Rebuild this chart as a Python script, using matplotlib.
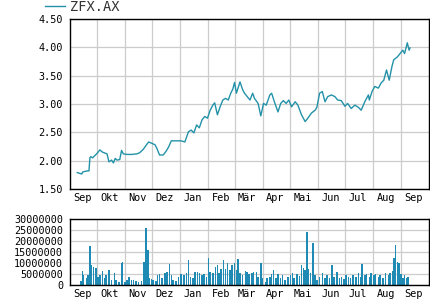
import numpy as np
import pandas as pd
import matplotlib
matplotlib.use('Agg')
import matplotlib.pyplot as plt
from matplotlib.lines import Line2D
from matplotlib.ticker import FuncFormatter

# day offsets from 2023-09-01 and close prices
start = pd.Timestamp('2023-09-01')
price_days = [8, 13, 14, 19, 21, 22, 23, 25, 30, 33, 36, 41, 43, 46, 48, 50, 52, 55, 57, 59,
              63, 68, 74, 77, 81, 85, 87, 90, 94, 96, 99, 103, 106, 109, 112, 118, 123, 127, 131, 134,
              137, 140, 143, 146, 149, 152, 155, 158, 160, 163, 166, 169, 172, 175, 178, 180, 182, 184, 188, 191,
              193, 196, 199, 202, 204, 208, 211, 214, 217, 221, 223, 226, 230, 233, 236, 239, 242, 245, 249, 252,
              256, 260, 263, 267, 271, 273, 276, 279, 282, 285, 289, 293, 296, 300, 304, 307, 311, 315, 319, 322,
              326, 330, 331, 334, 337, 341, 344, 347, 350, 353, 356, 358, 362, 365, 368, 370, 373, 375, 376]
price = [1.79, 1.765, 1.80, 1.82, 1.82, 2.05, 2.07, 2.05, 2.13, 2.19, 2.15, 2.12, 1.98, 2.01, 1.96, 2.04, 2.01, 2.02, 2.18, 2.12,
         2.11, 2.11, 2.12, 2.14, 2.20, 2.29, 2.33, 2.31, 2.28, 2.22, 2.10, 2.10, 2.16, 2.24, 2.35, 2.35, 2.35, 2.33, 2.51, 2.54,
         2.49, 2.63, 2.58, 2.72, 2.78, 2.75, 2.89, 2.98, 3.02, 2.81, 2.95, 3.07, 3.10, 3.07, 3.20, 3.26, 3.38, 3.19, 3.39, 3.25,
         3.19, 3.13, 3.07, 3.19, 3.10, 3.01, 2.79, 3.01, 2.98, 3.16, 3.19, 3.04, 2.86, 3.01, 3.06, 3.01, 3.07, 2.95, 3.04, 2.98,
         2.81, 2.69, 2.75, 2.84, 2.89, 2.94, 3.19, 3.22, 3.04, 3.13, 3.16, 3.13, 3.07, 3.06, 2.96, 3.01, 2.92, 2.98, 2.94, 2.89,
         3.04, 3.16, 3.07, 3.22, 3.31, 3.28, 3.37, 3.42, 3.60, 3.42, 3.66, 3.78, 3.83, 3.89, 3.95, 3.89, 4.08, 3.95, 3.99]

vol_days = [12, 14, 15, 18, 20, 22, 23, 26, 28, 29, 31, 33, 36, 38, 40, 43, 46, 49, 51, 54,
            57, 58, 61, 63, 65, 68, 70, 73, 76, 79, 82, 84, 85, 86, 88, 90, 92, 95, 97, 99,
            102, 105, 107, 110, 112, 114, 117, 120, 123, 126, 129, 131, 133, 136, 138, 141, 143, 146, 148, 151,
            153, 155, 158, 161, 163, 165, 167, 170, 172, 174, 177, 179, 182, 184, 186, 188, 191, 194, 196, 198,
            201, 203, 206, 208, 211, 213, 216, 218, 221, 223, 225, 228, 230, 233, 235, 238, 241, 244, 246, 248,
            251, 254, 256, 258, 260, 262, 264, 266, 269, 271, 273, 276, 279, 282, 284, 287, 290, 292, 295, 298,
            300, 303, 305, 308, 310, 313, 316, 319, 321, 323, 326, 328, 331, 333, 336, 338, 341, 343, 346, 349,
            352, 354, 357, 358, 360, 362, 364, 366, 368, 370, 372, 374]
vol_m = [2.0, 6.4, 4.5, 3.0, 4.5, 17.9, 9.0, 8.3, 7.5, 7.9, 3.8, 4.5, 6.4, 3.0, 4.5, 6.8, 2.3, 5.3, 2.3, 1.5,
         10.1, 10.6, 1.5, 2.3, 3.8, 2.3, 2.3, 1.8, 1.5, 1.8, 10.6, 25.8, 15.1, 15.9, 3.0, 2.6, 2.3, 1.8, 4.5, 4.8,
         3.3, 5.3, 6.0, 9.4, 4.5, 2.3, 1.8, 3.8, 4.8, 4.5, 5.3, 11.4, 3.8, 3.0, 6.0, 5.7, 5.3, 4.5, 4.8, 3.8,
         12.4, 6.0, 5.3, 8.3, 9.0, 5.3, 7.5, 11.4, 7.5, 9.8, 6.8, 9.0, 9.8, 6.8, 11.9, 5.3, 4.5, 6.4, 6.0, 4.8,
         5.3, 6.0, 5.7, 3.8, 9.8, 3.0, 1.5, 3.0, 3.8, 4.8, 6.8, 3.0, 4.8, 3.3, 4.5, 2.3, 3.8, 4.5, 5.3, 3.3,
         4.8, 4.2, 9.0, 7.9, 6.8, 24.2, 7.5, 5.3, 18.9, 4.5, 2.3, 3.8, 5.3, 3.0, 4.5, 3.3, 9.0, 3.8, 6.0, 3.0,
         3.8, 2.7, 4.5, 3.8, 3.0, 4.5, 3.8, 5.3, 3.8, 9.4, 4.5, 4.8, 3.8, 5.3, 4.5, 4.8, 3.8, 4.5, 3.0, 5.3,
         4.5, 5.3, 6.4, 12.1, 18.2, 10.6, 9.8, 4.8, 3.3, 4.5, 3.0, 3.8]

month_labels = ['Sep', 'Okt', 'Nov', 'Dez', 'Jan', 'Feb', 'Mär', 'Apr', 'Mai', 'Jun', 'Jul', 'Aug', 'Sep']

pdates = start + pd.to_timedelta(price_days, unit='D')
vdates = start + pd.to_timedelta(vol_days, unit='D')
vol = np.array(vol_m) * 1e6

line_col = '#2392a8'
bar_col = '#1f8ab4'
plt.rcParams['font.family'] = ['DejaVu Sans Mono']

fig = plt.figure(figsize=(4.30, 3.01), dpi=100)
ax = fig.add_axes([70/430, 1-189/301, 359/430, 170/301])
axv = fig.add_axes([70/430, 1-285/301, 359/430, 66/301])

xmin = pd.Timestamp('2023-09-01')
xmax = pd.Timestamp('2024-10-02')
month_starts = pd.date_range('2023-10-01', '2024-09-01', freq='MS')
mid_months = pd.date_range('2023-09-01', '2024-09-01', freq='MS') + pd.Timedelta(days=14)

ax.plot(pdates, price, color=line_col, linewidth=1.0)
ax.set_ylim(1.5, 4.5)
ax.set_yticks([1.5, 2.0, 2.5, 3.0, 3.5, 4.0, 4.5])
ax.yaxis.set_major_formatter(FuncFormatter(lambda v, p: '%.2f' % v))

axv.bar(vdates, vol, width=1.7, color=bar_col, linewidth=0)
axv.set_ylim(0, 30000000)
axv.set_yticks(np.arange(0, 30000001, 5000000))
axv.yaxis.set_major_formatter(FuncFormatter(lambda v, p: '%d' % v))

for a in (ax, axv):
    a.set_xlim(xmin, xmax)
    a.set_xticks(month_starts)
    a.set_xticklabels([])
    a.set_xticks(mid_months, minor=True)
    a.set_xticklabels(month_labels, minor=True, fontsize=7.4)
    a.tick_params(axis='x', which='both', length=0, pad=3)
    a.tick_params(axis='y', which='both', length=0, pad=5, labelsize=7.3)
    a.grid(True, which='major', color='#cccccc', linewidth=0.9)
    a.set_axisbelow(True)
    for s in a.spines.values():
        s.set_linewidth(1.0)
        s.set_color('black')

# legend in the top-left corner
fig.add_artist(Line2D([45/430, 65/430], [1-6/301, 1-6/301], color=line_col, linewidth=1.0))
fig.text(70/430, 1-7/301, 'ZFX.AX', fontsize=9.8, va='center', ha='left', color='#333333')

fig.savefig('out.png', dpi=100)
